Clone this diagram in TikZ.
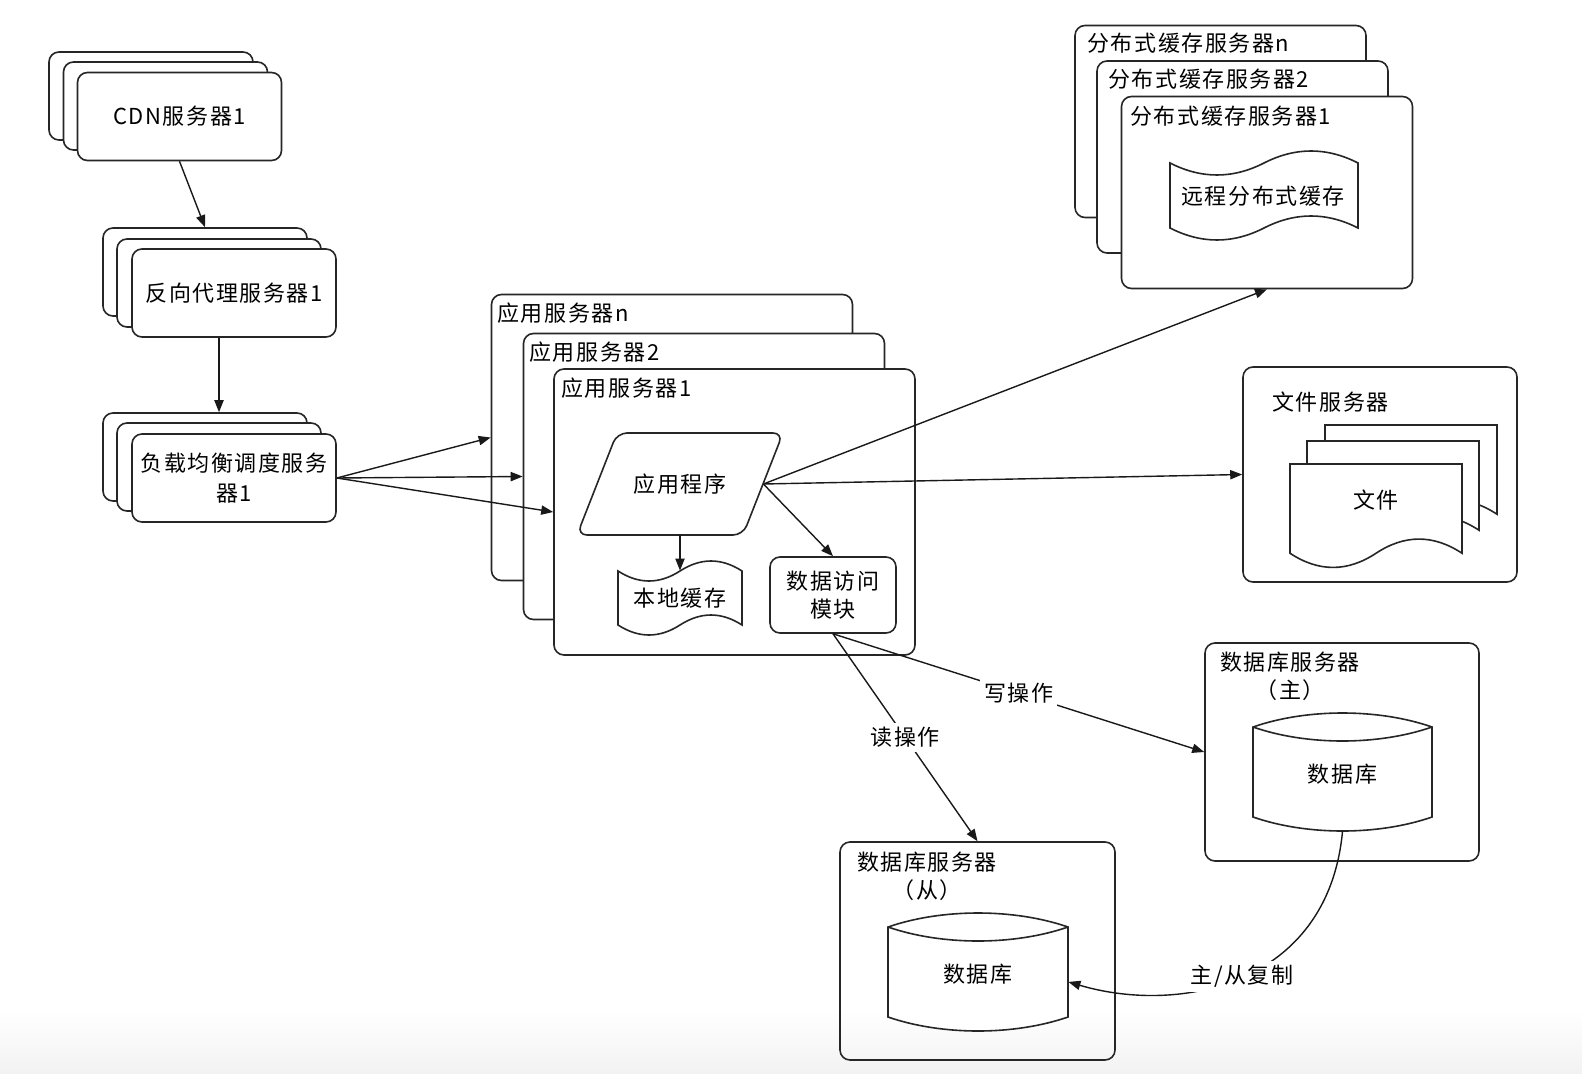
\documentclass[tikz,border=0pt]{standalone}
\usepackage{fontspec}
\setmainfont{Noto Sans CJK SC}[LetterSpace=7]
\usetikzlibrary{arrows.meta}
\newcommand{\drawtape}[5]{%
 \draw[ln, fill=white] (#1,#2) .. controls ({#1+(#3-#1)/6},{#2+4*#5/3}) and ({#1+(#3-#1)/3},{#2+4*#5/3}) .. ({(#1+#3)/2},#2) .. controls ({(#1+#3)/2+(#3-#1)/6},{#2-4*#5/3}) and ({(#1+#3)/2+(#3-#1)/3},{#2-4*#5/3}) .. (#3,#2) -- (#3,#4) .. controls ({#3-(#3-#1)/6},{#4-4*#5/3}) and ({#3-(#3-#1)/3},{#4-4*#5/3}) .. ({(#1+#3)/2},#4) .. controls ({(#1+#3)/2-(#3-#1)/6},{#4+4*#5/3}) and ({(#1+#3)/2-(#3-#1)/3},{#4+4*#5/3}) .. (#1,#4) -- cycle;}
\newcommand{\drawdoc}[4]{%
 \draw[ln, fill=white] (#1,#2) -- ({#1+#3},#2) -- ({#1+#3},{#2+0.85*#4}) .. controls ({#1+#3*5/6},{#2+0.67*#4}) and ({#1+#3*2/3},{#2+0.67*#4}) .. ({#1+#3/2},{#2+0.85*#4}) .. controls ({#1+#3/3},{#2+1.03*#4}) and ({#1+#3/6},{#2+1.03*#4}) .. (#1,{#2+0.85*#4}) -- cycle;}
\newcommand{\drawcyl}[5]{%
 \draw[ln, fill=white] (#1,#2) .. controls ({#1+0.3*(#3-#1)},{#2-4*#5/3}) and ({#3-0.3*(#3-#1)},{#2-4*#5/3}) .. (#3,#2) -- (#3,#4) .. controls ({#3-0.3*(#3-#1)},{#4+4*#5/3}) and ({#1+0.3*(#3-#1)},{#4+4*#5/3}) .. (#1,#4) -- cycle;
 \draw[ln] (#1,#2) .. controls ({#1+0.3*(#3-#1)},{#2+4*#5/3}) and ({#3-0.3*(#3-#1)},{#2+4*#5/3}) .. (#3,#2);}
\tikzset{
 every node/.style={font=\fontsize{11}{14}\selectfont, inner sep=0pt},
 sz/.style 2 args={minimum width=#1*0.5pt, minimum height=#2*0.5pt},
 ln/.style={line width=0.8pt, draw=black!85},
 rbox/.style={ln, rounded corners=5pt, fill=white},
 lbl/.style={anchor=west},
 arr/.style={-{Triangle[length=6pt,width=4.6pt]}, line width=0.7pt, draw=black!90},
 elbl/.style={fill=white, inner sep=2pt}
}
\begin{document}
\begin{tikzpicture}[x=0.5pt,y=-0.5pt]
\useasboundingbox (0,0) rectangle (1582,1074);
\fill[white] (0,0) rectangle (1582,1074);
\shade[top color=white, bottom color=black!5] (0,1010) rectangle (1582,1074);

% CDN
\node[rbox, sz={204}{88}] (cdn3) at (151,96) {};
\node[rbox, sz={204}{88}] (cdn2) at (165.5,106) {};
\node[rbox, sz={204}{88}] (cdn1) at (179.5,116.5) {CDN服务器1};
% reverse proxy
\node[rbox, sz={204}{88}] (rp3) at (205,272) {};
\node[rbox, sz={204}{88}] (rp2) at (219,283) {};
\node[rbox, sz={204}{88}] (rp1) at (234,293) {反向代理服务器1};
% load balancer
\node[rbox, sz={204}{88}] (lb3) at (205,457) {};
\node[rbox, sz={204}{88}] (lb2) at (219,467) {};
\node[rbox, sz={204}{88}, align=center, font=\fontsize{11}{15}\selectfont] (lb1) at (234,478) {负载均衡调度服务\\器1};

% app servers
\node[rbox, sz={361}{286}] (apn) at (672,437.5) {};
\node[lbl] (apnl) at (497,313) {应用服务器n};
\node[rbox, sz={361}{286}] (ap2) at (704,476.5) {};
\node[lbl] (ap2l) at (529,352) {应用服务器2};
\node[rbox, sz={361}{286}] (ap1) at (734.5,512) {};
\node[lbl] (ap1l) at (561,388) {应用服务器1};
\draw[ln, rounded corners=5pt, fill=white] (617,433) -- (783,433) -- (743,535) -- (577,535) -- cycle;
\node[sz={166}{102}] (app) at (680,484) {应用程序};
\drawtape{618}{571}{742}{625}{10}
\node[sz={124}{54}] (lc) at (680,598) {本地缓存};
\node[rbox, sz={126}{76}, align=center] (dam) at (833,595) {数据访问\\模块};

% distributed cache
\node[rbox, sz={291}{192}] (csn) at (1220.5,121.5) {};
\node[lbl] (csnl) at (1087,43) {分布式缓存服务器n};
\node[rbox, sz={291}{192}] (cs2) at (1242.5,157) {};
\node[lbl] (cs2l) at (1108,79) {分布式缓存服务器2};
\node[rbox, sz={291}{192}] (cs1) at (1267,192.5) {};
\node[lbl] (cs1l) at (1130,116) {分布式缓存服务器1};
\drawtape{1170}{163}{1358}{228}{12}
\node[sz={188}{65}] (rc) at (1263,196) {远程分布式缓存};

% file server
\node[rbox, sz={274}{215}] (fs) at (1380,474.5) {};
\node[lbl] (fsl) at (1272,402) {文件服务器};
\drawdoc{1325}{425}{172}{105}
\drawdoc{1307}{441}{172}{105}
\drawdoc{1290}{464}{172}{105}
\node (doc) at (1376,500) {文件};

% database master
\node[rbox, sz={274}{218}] (dbmbox) at (1342,752) {};
\node[align=center] (dbml) at (1290,676) {数据库服务器\\（主）};
\drawcyl{1253}{727}{1432}{817}{14}
\node[sz={179}{114}] (dbm) at (1342.5,774) {数据库};

% database slave
\node[ln, rounded corners=5pt, sz={275}{218}] (dbsbox) at (977.5,951) {};
\node[align=center] (dbsl) at (927,876) {数据库服务器\\（从）};
\drawcyl{888}{927}{1068}{1017}{14}
\node[sz={180}{112}] (dbs) at (978,974) {数据库};

% connectors
\draw[arr] (cdn1.south) -- (rp3.north);
\draw[arr] (rp2.south |- rp1.south) -- (rp2.north |- lb3.north);
\draw[arr] (lb1.east) -- (apn.west);
\draw[arr] (lb1.east) -- (ap2.west);
\draw[arr] (lb1.east) -- (ap1.west);
\draw[arr] (app.south) -- (lc.north);
\draw[arr] (app.east) -- (dam.north);
\draw[arr] (app.east) -- (cs1.south);
\draw[arr] (app.east) -- (fs.west);
\draw[arr] (dam.south) -- node[elbl] (wlbl) {写操作} (dbmbox.west);
\draw[arr] (dam.south) -- node[elbl] (rlbl) {读操作} (dbsbox.north);
\draw[arr] (dbm.south) .. controls (1328,985) and (1180,1015) .. node[elbl, pos=0.5] (replbl) {主/从复制} (dbs.-5);
\end{tikzpicture}
\end{document}
